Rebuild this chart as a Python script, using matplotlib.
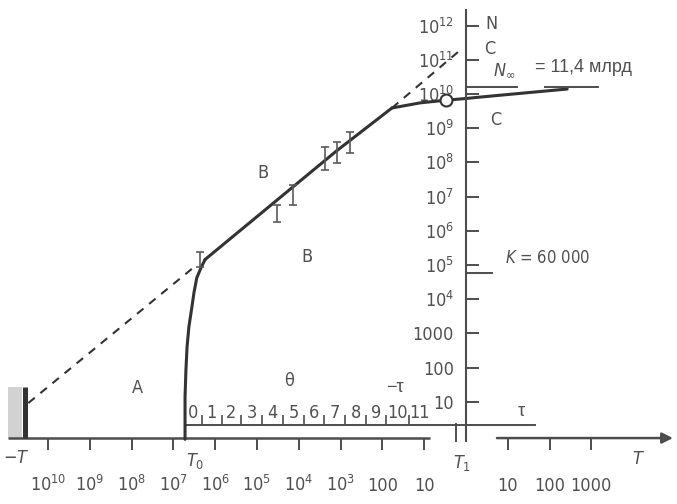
import matplotlib
matplotlib.use("Agg")
import matplotlib.pyplot as plt
from matplotlib import font_manager as fm
import numpy as np

# ---------------- data (years relative to T1; negative = before T1) ----------------
phase_a_years = [-5.25e6, -5.25e6, -5.0e6, -4.7e6, -4.25e6, -3.6e6, -3.2e6, -2.75e6, -2.2e6, -1.74e6]
phase_a_pop = [0.8, 14, 85, 400, 1.55e3, 5.9e3, 1.6e4, 4.2e4, 8.1e4, 1.45e5]
phase_b_years = [-1.74e6, -1.23e3, -59]
phase_b_pop = [1.45e5, 2.2e8, 3.9e9]
phase_c_years = [-59, -12.6, -3.0, 0, 2.1, 263]
phase_c_pop = [3.9e9, 5.5e9, 6.6e9, 7.4e9, 8.1e9, 1.4e10]
hyper_left_years = [-2.95e10, -3.2e6]
hyper_left_pop = [9.2, 8.7e4]
hyper_right_years = [-59, -1.15]
hyper_right_pop = [3.9e9, 2.3e11]
now_year = [-3.0]
now_pop = [6.6e9]
err_years = [-2.29e6, -3.3e4, -1.38e4, -2.34e3, -1.23e3, -600]
err_low = [8.7e4, 1.8e6, 5.6e6, 6.0e7, 9.5e7, 1.9e8]
err_high = [2.4e5, 5.6e6, 2.2e7, 2.8e8, 4.0e8, 7.8e8]
K_level = 6.0e4
n_inf_level = 1.6e10

x_ticks_left = [-1e10, -1e9, -1e8, -1e7, -1e6, -1e5, -1e4, -1e3, -100, -10]
x_labels_left = [r"$10^{10}$", r"$10^{9}$", r"$10^{8}$", r"$10^{7}$", r"$10^{6}$",
                 r"$10^{5}$", r"$10^{4}$", r"$10^{3}$", "100", "10"]
x_ticks_right = [10, 100, 1000]
x_labels_right = ["10", "100", "1000"]
y_ticks = [1e12, 1e11, 1e10, 1e9, 1e8, 1e7, 1e6, 1e5, 1e4, 1e3, 100, 10]
y_labels = [r"$10^{12}$", r"$10^{11}$", r"$10^{10}$", r"$10^{9}$", r"$10^{8}$", r"$10^{7}$",
            r"$10^{6}$", r"$10^{5}$", r"$10^{4}$", "1000", "100", "10"]
theta_edges = [-5.25e6, -2.08e6, -6.9e5, -2.4e5, -7.6e4, -2.4e4, -7.5e3, -2.5e3,
               -780, -246, -82, -23, -7.2]
theta_labels = [str(i) for i in range(12)]

# ---------------- fonts: prefer a condensed sans ----------------
cond_family = None
cond_stretch = "normal"
names = {(f.name, f.stretch) for f in fm.fontManager.ttflist}
for fam, st in [("Liberation Sans Narrow", None), ("Noto Sans", "condensed"),
                ("DejaVu Sans", "condensed"), ("Noto Sans", "semi-condensed"),
                ("DejaVu Sans", "semi-condensed")]:
    if st is None:
        if any(n == fam for n, _ in names):
            cond_family, cond_stretch = fam, "normal"
            break
    elif (fam, st) in names:
        cond_family, cond_stretch = fam, st
        break

if cond_family is not None:
    base_family = cond_family
    FS = 13
    suffix = "" if cond_stretch == "normal" else ":stretch=" + cond_stretch
else:
    base_family = "Liberation Sans"
    FS = 11.5
    suffix = ""

plt.rcParams["font.family"] = [base_family, "Liberation Sans", "DejaVu Sans"]
plt.rcParams["font.stretch"] = cond_stretch
plt.rcParams["mathtext.fontset"] = "custom"
plt.rcParams["mathtext.rm"] = base_family + suffix
plt.rcParams["mathtext.it"] = base_family + ":italic" + suffix
plt.rcParams["mathtext.sf"] = base_family + suffix
plt.rcParams["mathtext.bf"] = base_family + ":bold" + suffix

AX = "#4d4d4d"
TXT = "#505050"
CURVE = "#333333"

fig = plt.figure(figsize=(6.77, 5.04), dpi=100)
ax = fig.add_axes([0, 0, 1, 1])
ax.set_xscale("symlog", linthresh=1, linscale=0.001)
ax.set_yscale("log")
ax.set_xlim(-10 ** 11.147, 10 ** 5.047)
ax.set_ylim(10 ** -1.988, 10 ** 12.749)
ax.patch.set_alpha(0)

x_axis_level = 10 ** -0.06

# spines / ticks
for s in ["top", "right", "bottom"]:
    ax.spines[s].set_visible(False)
ax.spines["left"].set_position(("data", 0))
ax.spines["left"].set_bounds(10 ** -0.15, 10 ** 12.45)
ax.spines["left"].set_color(AX)
ax.spines["left"].set_linewidth(1.5)
ax.spines["bottom"].set_position(("data", x_axis_level))

ax.set_xticks(x_ticks_left + x_ticks_right)
ax.set_xticklabels(x_labels_left + x_labels_right)
ax.xaxis.set_minor_locator(matplotlib.ticker.NullLocator())
ax.set_yticks(y_ticks)
ax.set_yticklabels(y_labels)
ax.yaxis.set_minor_locator(matplotlib.ticker.NullLocator())
ax.tick_params(axis="x", direction="out", length=8.6, width=1.4, color=AX,
               pad=29.5, labelsize=FS, labelcolor=TXT)
ax.tick_params(axis="y", direction="in", length=9.4, width=1.4, color=AX,
               pad=8.6, labelsize=FS, labelcolor=TXT)
for lab in ax.get_xticklabels():
    lab.set_verticalalignment("baseline")

# main horizontal axis (with gap) and arrow
ax.plot([-9.1e10, -7.2], [x_axis_level, x_axis_level], color=AX, lw=1.8, solid_capstyle="butt")
ax.annotate("", xy=(10 ** 4.95, x_axis_level), xytext=(5.5, x_axis_level),
            arrowprops=dict(arrowstyle="-|>", color=AX, lw=1.8, mutation_scale=16,
                            shrinkA=0, shrinkB=0))
ax.plot([-1.74, -1.74], [10 ** 0.35, 10 ** -0.15], color=AX, lw=1.4)

# -T bar
ax.fill_between([-9.1e10, -4.2e10], x_axis_level, 27, color="#d2d2d2", lw=0)
ax.plot([-3.6e10, -3.6e10], [x_axis_level, 27], color=CURVE, lw=3.6, solid_capstyle="butt")

# theta scale
theta_level = 10 ** 0.32
ax.plot([theta_edges[0], 45], [theta_level, theta_level], color=AX, lw=1.4)
ax.vlines(theta_edges[1:-1], theta_level, 10 ** 0.61, color=AX, lw=1.2)
for i, lab in enumerate(theta_labels):
    xm = -np.sqrt(theta_edges[i] * theta_edges[i + 1])
    ax.text(xm, 10 ** 0.68, lab, ha="center", va="center",
            fontsize=FS if cond_family else 11, color=TXT)

# hyperbolic extrapolation (dashed)
ax.plot(hyper_left_years, hyper_left_pop, color=CURVE, lw=1.5, dashes=(4, 3.5))
ax.plot(hyper_right_years, hyper_right_pop, color=CURVE, lw=1.5, dashes=(4, 3.5))

# population curve
ax.plot(phase_a_years, phase_a_pop, color=CURVE, lw=2.2, solid_capstyle="round")
ax.plot(phase_b_years, phase_b_pop, color=CURVE, lw=2.2, solid_capstyle="round")
ax.plot(phase_c_years, phase_c_pop, color=CURVE, lw=2.2, solid_capstyle="round")

# error bars
lows = np.array(err_low)
highs = np.array(err_high)
ax.errorbar(err_years, lows, yerr=[np.zeros_like(lows), highs - lows], fmt="none",
            ecolor="#5a5a5a", elinewidth=1.2, capsize=2.9, capthick=1.2)

# present point
ax.plot(now_year, now_pop, "o", ms=8.6, mfc="white", mec=CURVE, mew=1.5)

# K and N_inf marks
ax.plot([0, 4.2], [K_level, K_level], color=AX, lw=1.4)
ax.plot([0, 16.6], [n_inf_level, n_inf_level], color=AX, lw=1.4)
ax.plot([78, 1440], [n_inf_level, n_inf_level], color=AX, lw=1.4)


# ---------------- text labels (figure pixel positions) ----------------
def t(x, y, s, **kw):
    kw.setdefault("fontsize", FS)
    kw.setdefault("color", TXT)
    fig.text(x / 677, 1 - y / 504, s, ha=kw.pop("ha", "center"), va=kw.pop("va", "center"), **kw)


t(137, 388, "A")
t(263, 173, "B")
t(307, 257, "B")
t(496, 120, "C")
t(490, 49, "C")
t(491, 24, "N")
t(289, 381, "θ")
t(395, 387, "−τ", family=["Liberation Sans", "DejaVu Sans"], fontstretch="normal")
t(521, 412, "τ", family=["Liberation Sans", "DejaVu Sans"], fontstretch="normal")
t(16, 458, r"$-T$")
t(195, 461, r"$T_{0}$")
t(462, 463, r"$T_{1}$")
t(638, 459, r"$T$")
t(504, 70, r"$N_{\infty}$")
t(535, 68, "= 11,4 млрд", ha="left", family=["Liberation Sans", "DejaVu Sans"],
  fontstretch="normal", fontsize=13)
t(505, 258, r"$K$ = 60 000", ha="left", fontsize=12)

fig.savefig("out.png", dpi=100, facecolor="white")
